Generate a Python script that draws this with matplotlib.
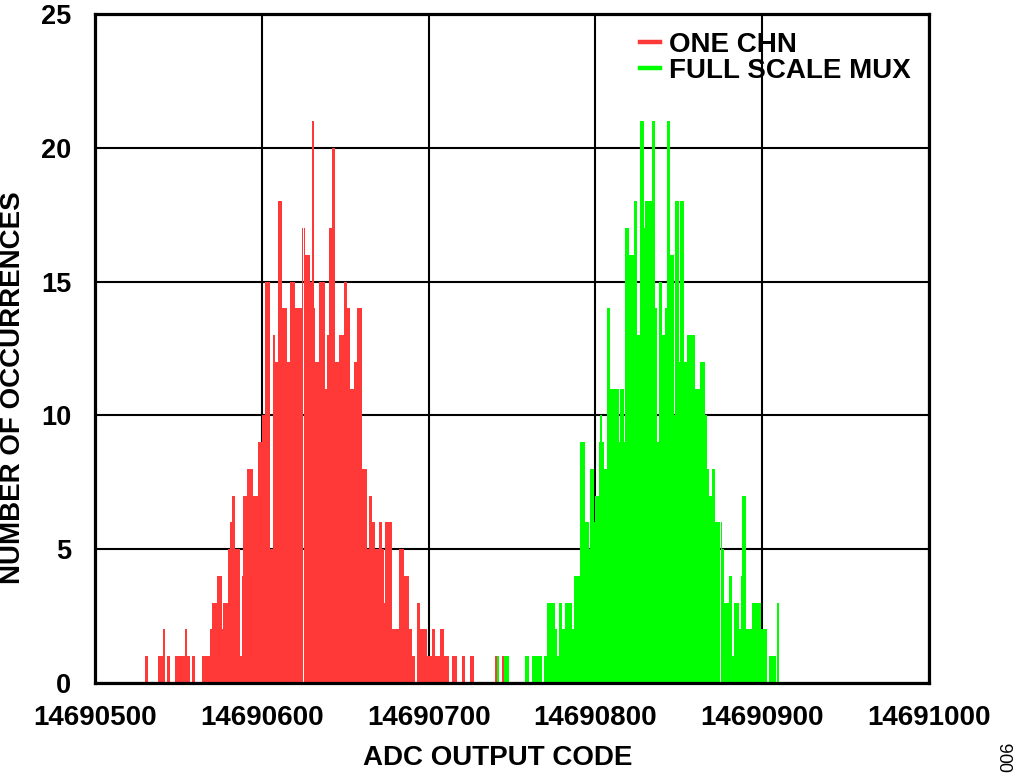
import numpy as np
import matplotlib
matplotlib.use("Agg")
import matplotlib.pyplot as plt
from matplotlib.lines import Line2D

# ---- data (counts per ADC output code) ----
red_start = 14690530
red_counts = [
    1, 1, 0, 0, 0, 0, 0, 0, 1, 1,
    1, 2, 0, 1, 1, 0, 0, 0, 1, 1,
    1, 1, 1, 1, 2, 1, 1, 0, 1, 1,
    0, 0, 0, 0, 1, 1, 1, 1, 1, 2,
    3, 3, 3, 4, 4, 4, 2, 3, 3, 3,
    5, 6, 7, 7, 5, 5, 5, 1, 4, 7,
    7, 8, 8, 8, 8, 7, 7, 7, 9, 9,
    10, 10, 15, 15, 15, 5, 5, 13, 12, 12,
    18, 18, 14, 14, 14, 12, 12, 15, 15, 15,
    14, 14, 14, 14, 17, 17, 16, 16, 16, 15,
    21, 14, 12, 12, 15, 15, 15, 15, 11, 13,
    17, 17, 20, 20, 12, 12, 13, 13, 13, 15,
    15, 14, 14, 11, 11, 12, 12, 14, 14, 14,
    8, 8, 8, 5, 7, 7, 6, 6, 5, 5,
    6, 6, 5, 3, 6, 6, 6, 6, 2, 2,
    2, 2, 5, 5, 5, 4, 4, 4, 2, 2,
    1, 1, 0, 3, 3, 2, 2, 2, 2, 1,
    1, 1, 2, 2, 1, 1, 1, 2, 2, 1,
    1, 1, 0, 0, 1, 1, 1, 0, 0, 0,
    1, 1, 0, 0, 0, 1, 1, 0, 0, 0,
    0, 0, 0, 0, 0, 0, 0, 0, 0, 0,
    1, 1, 0, 0, 1,
]

green_start = 14690741
green_counts = [
    1, 0, 0, 0, 1, 1, 1, 0, 0,
    0, 0, 0, 0, 0, 0, 0, 0, 1, 1,
    0, 0, 1, 1, 1, 1, 1, 1, 0, 1,
    1, 3, 3, 3, 3, 3, 2, 1, 3, 3,
    2, 2, 3, 3, 3, 3, 2, 4, 4, 4,
    4, 9, 9, 9, 6, 6, 5, 8, 8, 6,
    7, 7, 9, 10, 9, 8, 8, 14, 14, 11,
    11, 11, 11, 11, 9, 11, 11, 9, 17, 17,
    16, 16, 16, 18, 18, 13, 13, 21, 21, 17,
    18, 18, 18, 18, 21, 21, 14, 9, 15, 15,
    13, 13, 14, 21, 21, 16, 16, 10, 18, 18,
    12, 18, 18, 12, 12, 13, 13, 13, 13, 13,
    11, 11, 11, 12, 12, 12, 10, 8, 7, 7,
    8, 8, 6, 6, 6, 6, 5, 3, 3, 3,
    4, 4, 1, 3, 3, 3, 2, 4, 7, 7,
    2, 2, 2, 2, 3, 3, 3, 3, 3, 2,
    2, 2, 2, 0, 1, 1, 1, 1, 0, 3,
]

series_labels = ["ONE CHN", "FULL SCALE MUX"]
series_colors = ["#FF3838", "#00FF00"]
x_ticks = [14690500, 14690600, 14690700, 14690800, 14690900, 14691000]
y_ticks = [0, 5, 10, 15, 20, 25]

plt.rcParams['font.family'] = ['Liberation Sans', 'DejaVu Sans']
plt.rcParams['font.weight'] = 'bold'
FS = 20

fig = plt.figure(figsize=(10.24, 7.82), dpi=100)
ax = fig.add_axes([95/1024, 99/782, 834/1024, 669/782])

red_x = red_start + np.arange(len(red_counts))
green_x = green_start + np.arange(len(green_counts))
ax.bar(red_x, red_counts, width=1.0, align='edge', color=series_colors[0],
       linewidth=0, zorder=2)
ax.bar(green_x, green_counts, width=1.0, align='edge', color=series_colors[1],
       linewidth=0, zorder=3)

ax.set_xlim(x_ticks[0], x_ticks[-1])
ax.set_ylim(y_ticks[0], y_ticks[-1])
ax.set_xticks(x_ticks)
ax.set_yticks(y_ticks)
ax.set_xticklabels([str(t) for t in x_ticks], fontsize=FS, fontweight='bold')
ax.set_yticklabels([str(t) for t in y_ticks], fontsize=19.5, fontweight='bold')
ax.tick_params(axis='x', length=0, pad=16)
ax.tick_params(axis='y', length=0, pad=17)

ax.grid(True, color='black', linewidth=1.5, zorder=1)
ax.set_axisbelow(True)
for s in ax.spines.values():
    s.set_linewidth(2.3)
    s.set_color('black')
    s.set_zorder(5)

ax.set_xlabel("ADC OUTPUT CODE", fontsize=FS, fontweight='bold', va='center')
ax.xaxis.set_label_coords(0.483, (683 - 758) / 669)
ax.set_ylabel("NUMBER OF OCCURRENCES", fontsize=FS, fontweight='bold', va='center')
ax.yaxis.set_label_coords((13 - 95) / 834, (683 - 387.5) / 669)

handles = [Line2D([0], [0], color=c, linewidth=3.2) for c in series_colors]
ax.legend(handles, series_labels, loc='upper left', bbox_to_anchor=(0.653, 0.973),
          frameon=False, handlelength=0.73, handletextpad=0.33,
          labelspacing=0.0, borderpad=0, borderaxespad=0,
          prop={'weight': 'bold', 'size': 20})

fig.text(1009/1024, 1 - 757/782, "006", rotation=90, fontsize=13,
         fontweight='normal', ha='center', va='center')

fig.savefig("out.png", dpi=100)
